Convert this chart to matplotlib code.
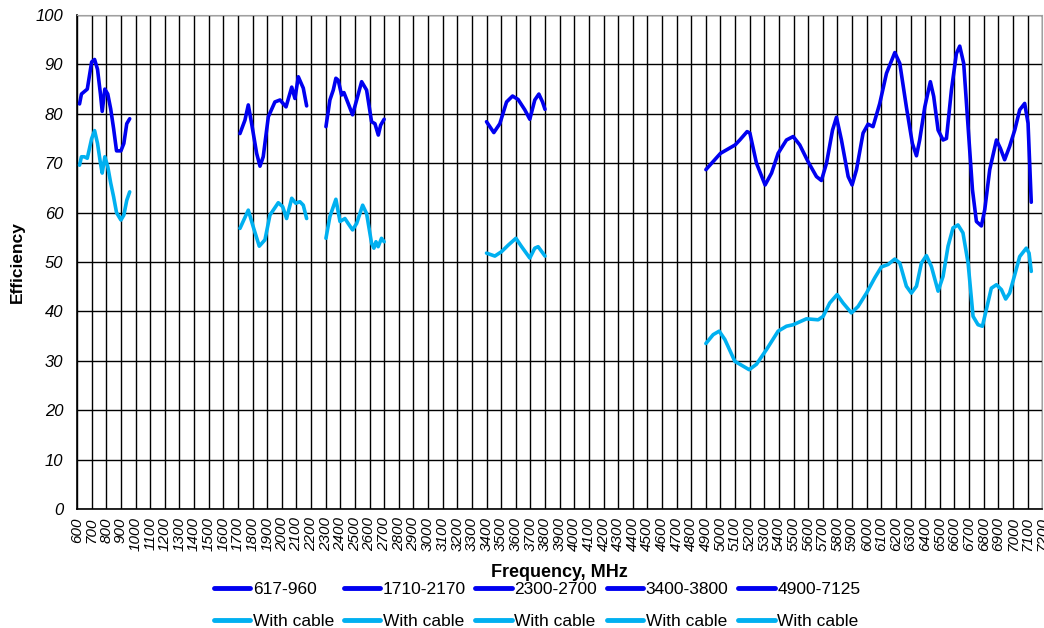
import matplotlib
matplotlib.use("Agg")
import matplotlib.pyplot as plt
import numpy as np

plt.rcParams['font.family'] = ['Liberation Sans', 'DejaVu Sans']

# ---- data ----
f1 = [617, 630, 650, 670, 700, 720, 740, 760, 772, 790, 810, 830, 850, 870, 900, 920, 940, 960]
e1 = [82, 84, 84.5, 85, 90.5, 91, 89, 84, 80.5, 85, 84, 81, 77, 72.5, 72.5, 74, 78, 79]
c1 = [69.6, 71.3, 71.3, 71, 75, 76.6, 74, 70, 68, 71.3, 69.3, 66, 63.2, 60, 58.5, 59.5, 62.5, 64.2]

f2 = [1714, 1748, 1771, 1794, 1828, 1851, 1873, 1908, 1953, 1988, 2029, 2068, 2090, 2113, 2147, 2170]
e2 = [76, 78.7, 81.8, 78, 72, 69.4, 71.3, 79.4, 82.4, 82.8, 81.4, 85.4, 83.1, 87.5, 85.2, 81.6]
f2c = [1714, 1771, 1805, 1846, 1885, 1919, 1976, 2006, 2033, 2068, 2095, 2124, 2147, 2170]
c2 = [56.8, 60.5, 57.1, 53.2, 54.5, 59.5, 62, 61.2, 58.8, 62.9, 61.9, 62.2, 61.5, 58.8]

f3 = [2302, 2329, 2352, 2370, 2386, 2409, 2425, 2454, 2484, 2512, 2546, 2580, 2614, 2637, 2660, 2676, 2700]
e3 = [77.4, 82.8, 84.8, 87.2, 86.8, 83.8, 84.3, 82.1, 79.8, 82.8, 86.5, 84.8, 78.4, 78, 75.7, 77.7, 78.9]
f3c = [2302, 2329, 2370, 2398, 2432, 2454, 2484, 2512, 2553, 2580, 2614, 2630, 2644, 2659, 2682, 2700]
c3 = [54.8, 59.2, 62.7, 58.2, 58.8, 57.8, 56.5, 57.8, 61.5, 59.8, 53.8, 52.8, 54.1, 53.1, 54.8, 54.1]

f4 = [3400, 3450, 3491, 3537, 3578, 3616, 3662, 3696, 3730, 3758, 3783, 3800]
e4 = [78.4, 76.2, 78, 82.4, 83.6, 82.9, 80.8, 78.9, 82.8, 84, 82.4, 80.9]
f4c = [3400, 3457, 3503, 3548, 3601, 3640, 3696, 3730, 3753, 3800]
c4 = [51.8, 51.2, 52.1, 53.4, 54.8, 53.1, 50.8, 52.8, 53.1, 51.2]

f5 = [4900, 5000, 5100, 5132, 5182, 5201, 5246, 5305, 5349, 5394, 5451, 5497, 5542, 5599,
      5656, 5690, 5725, 5766, 5793, 5827, 5873, 5900, 5930, 5975, 6009, 6043, 6089, 6135,
      6192, 6226, 6271, 6312, 6340, 6362, 6397, 6435, 6458, 6488, 6522, 6545, 6579, 6613,
      6636, 6663, 6693, 6723, 6750, 6784, 6807, 6841, 6887, 6914, 6943, 6977, 7012, 7046,
      7080, 7103, 7125]
e5 = [68.7, 72.0, 73.7, 74.7, 76.4, 76.1, 70.0, 65.6, 68.0, 72.0, 74.7, 75.4, 73.7, 70.3,
      67.3, 66.5, 70.0, 76.7, 79.3, 74.7, 67.3, 65.6, 68.7, 76.1, 77.9, 77.4, 82.1, 88.2,
      92.4, 90.2, 81.4, 74.0, 71.5, 74.7, 81.4, 86.5, 83.5, 76.7, 74.7, 75.0, 84.8, 92.2,
      93.7, 90.2, 77.4, 64.6, 58.2, 57.3, 60.6, 68.7, 74.7, 73.0, 70.7, 73.4, 76.7, 80.8,
      82.1, 78.1, 62.1]
f5c = [4900, 4950, 4991, 5030, 5098, 5196, 5246, 5315, 5394, 5451, 5497, 5588, 5668, 5702,
       5747, 5797, 5838, 5895, 5941, 5998, 6055, 6100, 6146, 6192, 6226, 6271, 6305, 6340,
       6374, 6408, 6442, 6488, 6522, 6556, 6590, 6624, 6658, 6693, 6727, 6761, 6791, 6818,
       6852, 6887, 6921, 6950, 6977, 7012, 7046, 7091, 7110, 7125]
c5 = [33.5, 35.3, 36.0, 34.3, 29.9, 28.2, 29.3, 32.3, 36.0, 37.0, 37.3, 38.5, 38.3, 39.0,
      41.7, 43.4, 41.7, 39.7, 41.0, 43.7, 46.8, 49.0, 49.5, 50.6, 49.8, 45.1, 43.7, 45.1,
      49.8, 51.3, 49.1, 44.1, 47.1, 53.2, 56.9, 57.5, 55.9, 49.8, 39.0, 37.3, 37.0, 40.4,
      44.7, 45.4, 44.4, 42.5, 43.7, 47.4, 51.1, 52.8, 51.8, 48.1]

band_labels = ['617-960', '1710-2170', '2300-2700', '3400-3800', '4900-7125']
cable_label = 'With cable'
x_ticks = list(range(600, 7201, 100))
y_ticks = list(range(0, 101, 10))

dark = '#0000F0'
light = '#00B0F0'

fig = plt.figure(figsize=(10.44, 6.28), dpi=100)
ax = fig.add_axes([0.0738, 0.1895, 0.9245, 0.7866])

bands = [(f1, e1, f1, c1), (f2, e2, f2c, c2), (f3, e3, f3c, c3), (f4, e4, f4c, c4), (f5, e5, f5c, c5)]
handles = []
for (fx, ex, fc, cc), lab in zip(bands, band_labels):
    h1, = ax.plot(fx, ex, color=dark, lw=2.6, solid_joinstyle='round', solid_capstyle='round', label=lab, zorder=3)
    h2, = ax.plot(fc, cc, color=light, lw=2.6, solid_joinstyle='round', solid_capstyle='round', label=cable_label, zorder=3)
    handles += [h1, h2]

ax.set_xlim(600, 7200)
ax.set_ylim(0, 100)
ax.set_xticks(x_ticks)
ax.set_xticklabels([str(t) for t in x_ticks], rotation=90, fontsize=11, fontstyle='italic')
ax.set_yticks(y_ticks)
ax.set_yticklabels([str(t) for t in y_ticks], fontsize=12, fontstyle='italic')
ax.tick_params(axis='y', length=0, pad=10)
ax.tick_params(axis='x', length=0, pad=6)
ax.grid(True, color='black', lw=1.0)
ax.set_axisbelow(True)
for s in ['top', 'right']:
    ax.spines[s].set_color('#a0a0a0')
for s in ['left', 'bottom']:
    ax.spines[s].set_color('black')
    ax.spines[s].set_linewidth(1.2)

ax.set_xlabel('Frequency, MHz', fontsize=13, fontweight='bold', labelpad=9)
ax.set_ylabel('Efficiency', fontsize=12.5, fontweight='bold')
ax.yaxis.set_label_coords(-0.054, 0.5)

leg = fig.legend(handles=handles, labels=[h.get_label() for h in handles], ncol=5,
                 loc='center', bbox_to_anchor=(0.5144, 0.036), frameon=False,
                 fontsize=12.5, handlelength=2.1, handletextpad=0.15, columnspacing=0.55,
                 labelspacing=0.95, borderaxespad=0.0, borderpad=0.0)
for l in leg.get_lines():
    l.set_linewidth(3.5)

fig.savefig('out.png', dpi=100)
